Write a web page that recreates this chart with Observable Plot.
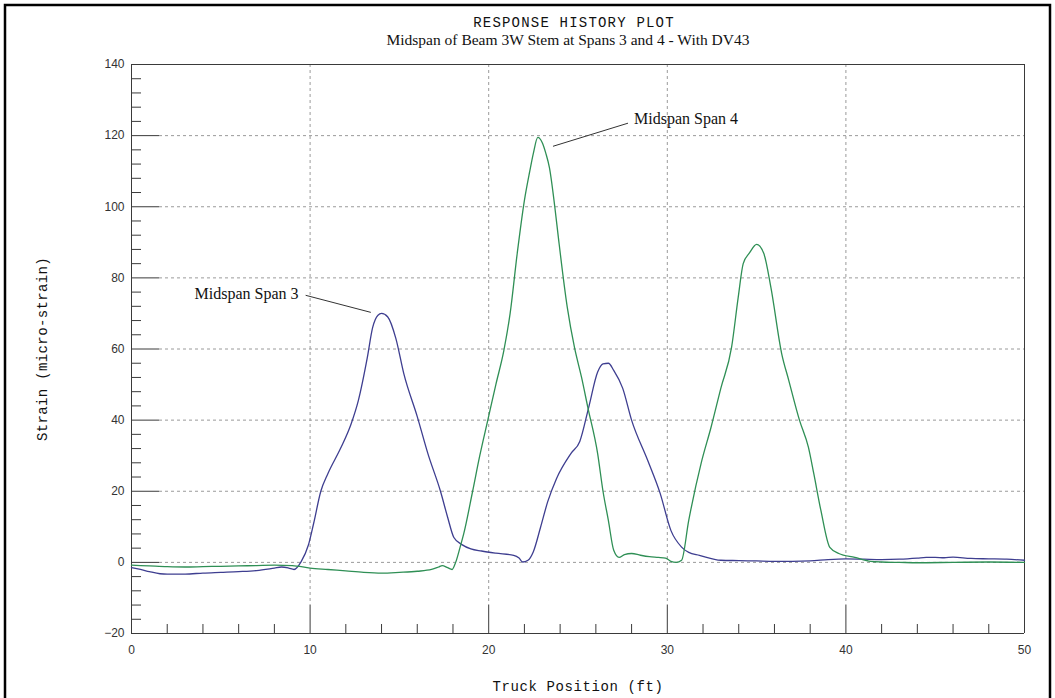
<!DOCTYPE html>
<html>
<head>
<meta charset="utf-8">
<script src="https://cdn.jsdelivr.net/npm/d3@7"></script>
<script src="https://cdn.jsdelivr.net/npm/@observablehq/plot@0.6"></script>
<style>
  html, body { margin: 0; padding: 0; background: #fff; }
</style>
</head>
<body>
<div id="chart"></div>
<script>
// ---- Data ----
const titleText = "RESPONSE HISTORY PLOT";
const subtitleText = "Midspan of Beam 3W Stem at Spans 3 and 4 - With DV43";
const xLabel = "Truck Position (ft)";
const yLabel = "Strain (micro-strain)";

const xTicks = [0, 10, 20, 30, 40, 50];
const yTicks = [-20, 0, 20, 40, 60, 80, 100, 120, 140];

// Midspan Span 3 (blue)
const span3X = [0, 0.5, 1, 1.6, 2, 3, 4, 5, 6, 7, 8, 8.4, 8.8, 9.1, 9.5, 9.9, 10.2, 10.6, 11.0, 11.7, 12.3, 12.7, 13.2, 13.5, 13.8, 14.0, 14.35, 14.8, 15.25, 16.0, 16.6, 17.3, 17.7, 18.05, 18.5, 19.0, 19.6, 20.4, 21.4, 21.7, 21.9, 22.2, 22.5, 22.9, 23.3, 23.8, 24.6, 25.1, 25.6, 26.1, 26.4, 26.7, 27.0, 27.5, 28.0, 28.9, 29.6, 30.2, 30.8, 31.2, 31.8, 33, 34, 35, 36, 37, 38, 39, 40, 41, 42, 43, 44, 44.5, 45, 45.5, 46, 47, 48, 49, 50];
const span3Y = [-1.5, -2.0, -2.6, -3.2, -3.3, -3.3, -3.0, -2.8, -2.6, -2.3, -1.6, -1.3, -1.6, -2.0, 0.2, 4.8, 11, 20, 25, 32, 39, 45.5, 57.5, 66, 69.5, 70, 69, 63, 53, 41, 30.5, 20, 12.7, 7, 5, 3.8, 3.2, 2.6, 2.0, 1.2, 0.1, 0.6, 3, 9.8, 17, 23.6, 30.6, 34, 43.6, 53.5, 55.8, 56, 54, 49, 40, 28.7, 19.4, 9, 4.3, 2.8, 2.0, 0.6, 0.5, 0.4, 0.3, 0.3, 0.4, 0.8, 1.0, 0.9, 0.8, 0.9, 1.2, 1.4, 1.4, 1.3, 1.5, 1.1, 1.0, 0.9, 0.6];

// Midspan Span 4 (green)
const span4X = [0, 1, 2, 3, 4, 5, 6, 7, 8, 9, 10, 11, 12, 13, 14, 15, 16, 16.8, 17.2, 17.4, 17.7, 17.95, 18.15, 18.4, 18.6, 19.1, 19.5, 19.95, 20.4, 20.85, 21.2, 21.6, 22.0, 22.3, 22.5, 22.75, 23.0, 23.2, 23.4, 23.7, 23.9, 24.4, 24.8, 25.2, 25.55, 26.1, 26.4, 26.7, 27.0, 27.3, 27.6, 28.0, 28.5, 29.0, 29.5, 29.9, 30.2, 30.5, 30.8, 31.2, 31.9, 32.45, 33.0, 33.6, 33.97, 34.25, 34.6, 35.0, 35.4, 35.8, 36.4, 36.8, 37.4, 37.9, 38.2, 38.6, 39.1, 39.6, 40.5, 41.4, 42, 43, 44, 46, 48, 50];
const span4Y = [-0.8, -1.0, -1.2, -1.3, -1.2, -1.1, -1.0, -0.9, -0.8, -0.9, -1.6, -2.0, -2.4, -2.8, -3.0, -2.8, -2.5, -2.0, -1.3, -0.9, -1.5, -2.0, 0, 4.3, 8, 20, 30, 40, 50, 59.6, 70, 87, 101.8, 110, 115, 119.5, 118, 115, 111, 100, 91.4, 71.7, 60.5, 52, 43.6, 30.6, 20, 11.8, 3.4, 1.4, 2.2, 2.5, 2.0, 1.6, 1.4, 1.2, 0.3, 0.0, 0.6, 11.8, 28, 38, 49, 60.5, 74.5, 84, 87, 89.4, 86.9, 77.3, 58.8, 51.2, 40, 32.4, 25, 14.6, 4.2, 2.5, 1.4, 0.3, 0.1, 0, -0.1, 0, 0.1, 0];

// Annotations (label, label anchor point, leader line start and end, in data units)
const annoLabels = ["Midspan Span 3", "Midspan Span 4"];
const annoTextX = [9.35, 28.14];
const annoTextY = [75.6, 124.6];
const annoAnchor = ["end", "start"];
const leaderX1 = [9.75, 27.8];
const leaderY1 = [75.1, 123.5];
const leaderX2 = [13.4, 23.6];
const leaderY2 = [70.3, 117];

// ---- Build tables ----
const span3 = span3X.map((x, i) => ({x, y: span3Y[i]}));
const span4 = span4X.map((x, i) => ({x, y: span4Y[i]}));
const annos = annoLabels.map((t, i) => ({
  text: t, x: annoTextX[i], y: annoTextY[i], anchor: annoAnchor[i],
  x1: leaderX1[i], y1: leaderY1[i], x2: leaderX2[i], y2: leaderY2[i]
}));
const yMinor = d3.range(-20, 141, 4).filter(v => v % 20 !== 0);
const xMinor = d3.range(0, 51, 2).filter(v => v % 10 !== 0);
const yGrid = yTicks.filter(v => v > -20 && v < 140);
const xGrid = xTicks.filter(v => v > 0 && v < 50);

const W = 1055, H = 698;
const mL = 131, mR = 31, mT = 64, mB = 65;
const pw = W - mL - mR, ph = H - mT - mB;
const majorLen = 28, minorLenY = 10, minorLenX = 9;
const axisColor = "#3a3a3a";
const mono = "'Liberation Mono', 'DejaVu Sans Mono', monospace";
const serif = "'Liberation Serif', 'DejaVu Serif', serif";
const sans = "'Liberation Sans', Arial, sans-serif";

const annoText = (anchor) => Plot.text(annos.filter(d => d.anchor === anchor), {
  x: "x", y: "y", text: "text", textAnchor: anchor,
  fontFamily: serif, fontSize: 16, fill: "#111", lineAnchor: "middle"
});

const chart = Plot.plot({
  width: W, height: H,
  marginLeft: mL, marginRight: mR, marginTop: mT, marginBottom: mB,
  style: {fontFamily: sans, fontSize: "12px", color: "#333", background: "#fff"},
  x: {domain: [0, 50], ticks: xTicks, tickSize: 0, tickPadding: 12, label: null},
  y: {domain: [-20, 140], ticks: yTicks, tickSize: 0, tickPadding: 7, label: null},
  marks: [
    // dashed grid
    Plot.tickY(yGrid, {y: d => d, insetLeft: majorLen, stroke: "#9a9a9a", strokeDasharray: "3,3"}),
    Plot.tickX(xGrid, {x: d => d, insetBottom: majorLen, stroke: "#9a9a9a", strokeDasharray: "3,3"}),
    // major ticks (solid, inside)
    Plot.tickY(yTicks, {y: d => d, insetRight: pw - majorLen, stroke: axisColor}),
    Plot.tickX(xTicks, {x: d => d, insetTop: ph - majorLen, stroke: axisColor}),
    // minor ticks
    Plot.tickY(yMinor, {y: d => d, insetRight: pw - minorLenY, stroke: axisColor}),
    Plot.tickX(xMinor, {x: d => d, insetTop: ph - minorLenX, stroke: axisColor}),
    // plot box
    Plot.ruleX([0, 50], {stroke: axisColor}),
    Plot.ruleY([-20], {stroke: axisColor}),
    Plot.ruleY([140], {stroke: axisColor}),
    // data
    Plot.line(span3, {x: "x", y: "y", stroke: "#3e3e90", strokeWidth: 1.3, curve: "monotone-x"}),
    Plot.line(span4, {x: "x", y: "y", stroke: "#2f8f55", strokeWidth: 1.3, curve: "monotone-x"}),
    // annotations
    Plot.link(annos, {x1: "x1", y1: "y1", x2: "x2", y2: "y2", stroke: "#333", strokeWidth: 1}),
    annoText("end"),
    annoText("start"),
    // titles
    Plot.text([titleText], {frameAnchor: "top", dx: -4, dy: -42, text: d => d, fontFamily: mono, fontSize: 14, fill: "#111", lineAnchor: "middle"}),
    Plot.text([subtitleText], {frameAnchor: "top", dx: -10, dy: -24, text: d => d, fontFamily: serif, fontSize: 15.5, fill: "#111", lineAnchor: "middle"}),
    // axis labels
    Plot.text([xLabel], {frameAnchor: "bottom", dy: 53, text: d => d, fontFamily: mono, fontSize: 14, fill: "#111", lineAnchor: "middle"}),
    Plot.text([yLabel], {frameAnchor: "left", textAnchor: "middle", dx: -89, rotate: -90, text: d => d, fontFamily: mono, fontSize: 14, fill: "#111", lineAnchor: "middle"})
  ]
});

// letter spacing for the monospace texts (style only)
const sel = d3.select(chart).selectAll("text");
sel.filter(function() { return this.textContent === titleText; }).style("letter-spacing", "1.2px");
sel.filter(function() { const t = this.textContent; return t === xLabel; }).style("letter-spacing", "0.6px");
sel.filter(function() { const t = this.textContent; return t === yLabel; }).style("letter-spacing", "0.35px");

// outer border
d3.select(chart).append("rect")
  .attr("x", 5).attr("y", 5).attr("width", 1045).attr("height", 705)
  .attr("fill", "none").attr("stroke", "#000").attr("stroke-width", 2.5);

document.getElementById("chart").appendChild(chart);
</script>
</body>
</html>
